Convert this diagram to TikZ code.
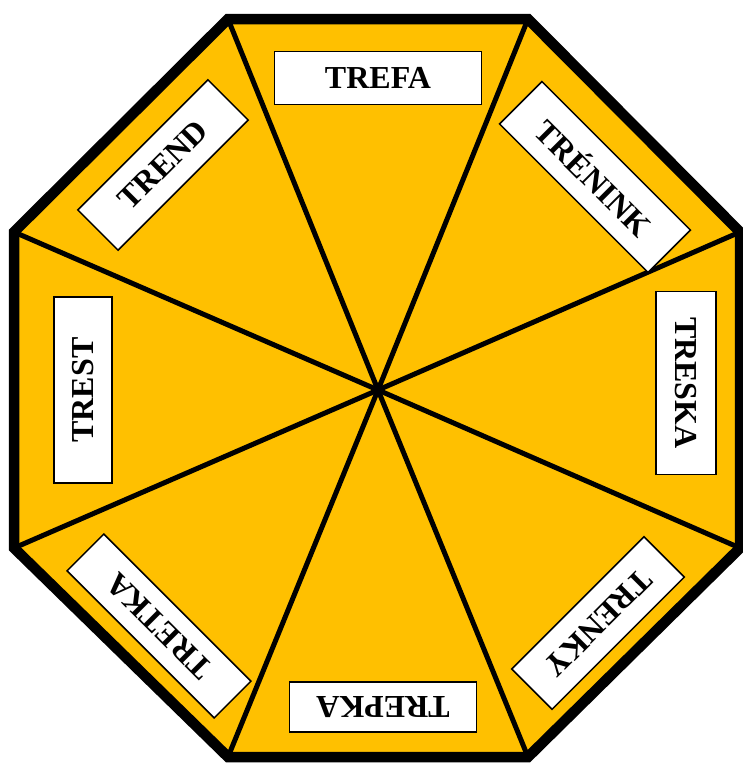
\documentclass[tikz,border=0pt]{standalone}
\usepackage{fontspec}
\setmainfont{Liberation Serif}
\usetikzlibrary{calc}
\definecolor{zlata}{HTML}{FFC000}

\begin{document}
\begin{tikzpicture}[x=1pt, y=-1pt]

\tikzset{
  slovo/.style={rectangle, draw=black, line width=1.5pt, fill=white,
    minimum height=55pt, inner sep=0pt,
    font=\fontsize{32}{32}\selectfont\bfseries},
  paprsek/.style={line width=5pt},
  obrys/.style={line width=10.5pt, line join=miter}
}

\useasboundingbox (0,0) rectangle (743,763);

% ---- VERTICES ----
\coordinate (v1) at (228,19);
\coordinate (v2) at (528,19);
\coordinate (v3) at (740,232);
\coordinate (v4) at (740,548);
\coordinate (v5) at (528,757);
\coordinate (v6) at (228,757);
\coordinate (v7) at (14,548);
\coordinate (v8) at (14,232);
\coordinate (stred) at (378,390);

% ---- OCTAGON ----
\fill[zlata] (v1) -- (v2) -- (v3) -- (v4) -- (v5) -- (v6) -- (v7) -- (v8) -- cycle;
\foreach \i in {1,...,8}
  \draw[paprsek] (stred) -- (v\i);
\draw[obrys] (v1) -- (v2) -- (v3) -- (v4) -- (v5) -- (v6) -- (v7) -- (v8) -- cycle;

% ---- WORDS ----
\node (trefa)   [slovo, minimum width=207pt, minimum height=53pt]              at (378,78)  {TREFA};
\node (trenink) [slovo, minimum width=210pt, minimum height=60pt, rotate=-45]  at (595,177) {TRÉNINK};
\node (treska)  [slovo, minimum width=183pt, minimum height=60pt, rotate=-90]  at (686,383) {TRESKA};
\node (trenky)  [slovo, minimum width=187pt, minimum height=57pt, rotate=-135] at (598,623) {TRENKY};
\node (trepka)  [slovo, minimum width=187pt, minimum height=50pt, rotate=180]  at (383,707) {TREPKA};
\node (tretka)  [slovo, minimum width=208pt, minimum height=52pt, rotate=135]  at (159,626) {TRETKA};
\node (trest)   [slovo, minimum width=186pt, minimum height=58pt, rotate=90]   at (83,390)  {TREST};
\node (trend)   [slovo, minimum width=184pt, minimum height=57pt, rotate=45]   at (163,165) {TREND};

\end{tikzpicture}
\end{document}
